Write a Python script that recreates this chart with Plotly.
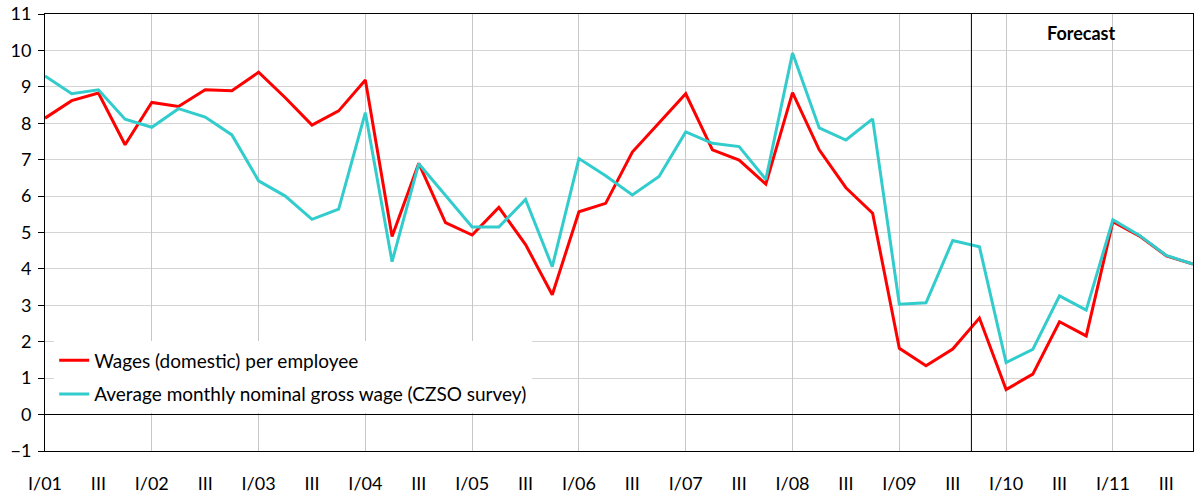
import plotly.graph_objects as go

quarters = []
for yr in range(1, 12):
    for q in ["I", "II", "III", "IV"]:
        quarters.append(f"{q}/{yr:02d}")

wages_domestic = [8.14, 8.62, 8.83, 7.41, 8.57, 8.46, 8.92, 8.89, 9.40, 8.70, 7.95, 8.34,
                  9.19, 4.89, 6.90, 5.27, 4.93, 5.69, 4.67, 3.29, 5.57, 5.80, 7.21, 8.00,
                  8.81, 7.27, 6.99, 6.33, 8.84, 7.27, 6.23, 5.53, 1.82, 1.34, 1.80, 2.65,
                  0.69, 1.11, 2.55, 2.16, 5.30, 4.90, 4.36, 4.13]
avg_gross_wage = [9.30, 8.81, 8.92, 8.11, 7.89, 8.40, 8.17, 7.68, 6.42, 6.00, 5.36, 5.64,
                  8.29, 4.20, 6.89, 6.03, 5.15, 5.15, 5.91, 4.06, 7.03, 6.56, 6.03, 6.54,
                  7.76, 7.45, 7.36, 6.46, 9.93, 7.87, 7.54, 8.12, 3.03, 3.07, 4.78, 4.61,
                  1.43, 1.79, 3.26, 2.87, 5.35, 4.92, 4.37, 4.13]

tick_labels = [("I/" + q.split("/")[1]) if q.startswith("I/") else "III"
               for q in quarters if q.split("/")[0] in ("I", "III")]
tick_idx = [i for i, q in enumerate(quarters) if q.split("/")[0] in ("I", "III")]
year_idx = [i for i, q in enumerate(quarters) if q.startswith("I/")]
forecast_start = 34.7

x = list(range(len(quarters)))
FONT = "Lato"

fig = go.Figure()
fig.add_trace(go.Scatter(x=x, y=wages_domestic, mode="lines",
                         name="Wages (domestic) per employee", legendgroup="a",
                         line=dict(color="#FF0000", width=3)))
fig.add_trace(go.Scatter(x=x, y=avg_gross_wage, mode="lines",
                         name="Average monthly nominal gross wage (CZSO survey)",
                         legendgroup="b",
                         line=dict(color="#33CCCC", width=3)))
# invisible trace to anchor overlay axis for year gridlines
fig.add_trace(go.Scatter(x=[x[0], x[-1]], y=[None, None], xaxis="x2",
                         showlegend=False, hoverinfo="skip"))

fig.add_shape(type="line", x0=forecast_start, x1=forecast_start, y0=-1, y1=11,
              xref="x", yref="y", line=dict(color="black", width=1))
fig.add_annotation(x=38.84, y=10.48, xref="x", yref="y", text="<b>Forecast</b>",
                   showarrow=False, font=dict(family=FONT, size=18, color="black"))

fig.update_layout(
    width=1203, height=494,
    margin=dict(l=45, r=10, t=14, b=43, autoexpand=False),
    paper_bgcolor="white", plot_bgcolor="white",
    font=dict(family=FONT, size=18, color="black"),
    xaxis=dict(range=[0, len(quarters) - 1], tickvals=tick_idx, ticktext=tick_labels,
               showgrid=False, zeroline=False, showline=True, linecolor="black",
               linewidth=1, mirror=True, ticks="", ticklabelstandoff=16,
               automargin=False, ticklabeloverflow="allow",
               tickfont=dict(family=FONT, size=18)),
    xaxis2=dict(overlaying="x", matches="x", side="bottom", tickvals=year_idx,
                showgrid=True, gridcolor="#C8C8C8", gridwidth=1, showticklabels=False,
                ticks="", zeroline=False, showline=False, automargin=False),
    yaxis=dict(range=[-1, 11], dtick=1, tick0=0, showgrid=True, gridcolor="#D4D4D4",
               gridwidth=1, zeroline=True, zerolinecolor="black", zerolinewidth=1,
               showline=True, linecolor="black", linewidth=1, mirror=True,
               ticks="outside", ticklen=6, tickcolor="black", ticklabelstandoff=3,
               automargin=False, ticklabeloverflow="allow",
               tickfont=dict(family=FONT, size=18)),
    legend=dict(x=0.008, y=0.086, xanchor="left", yanchor="bottom",
                bgcolor="white", font=dict(family=FONT, size=19),
                tracegroupgap=6, itemwidth=30),
    showlegend=True,
    hovermode=False,
)

fig.write_html("out.html", config={"displayModeBar": False},
               post_script="document.body.style.margin='0';document.body.style.overflow='hidden';")
